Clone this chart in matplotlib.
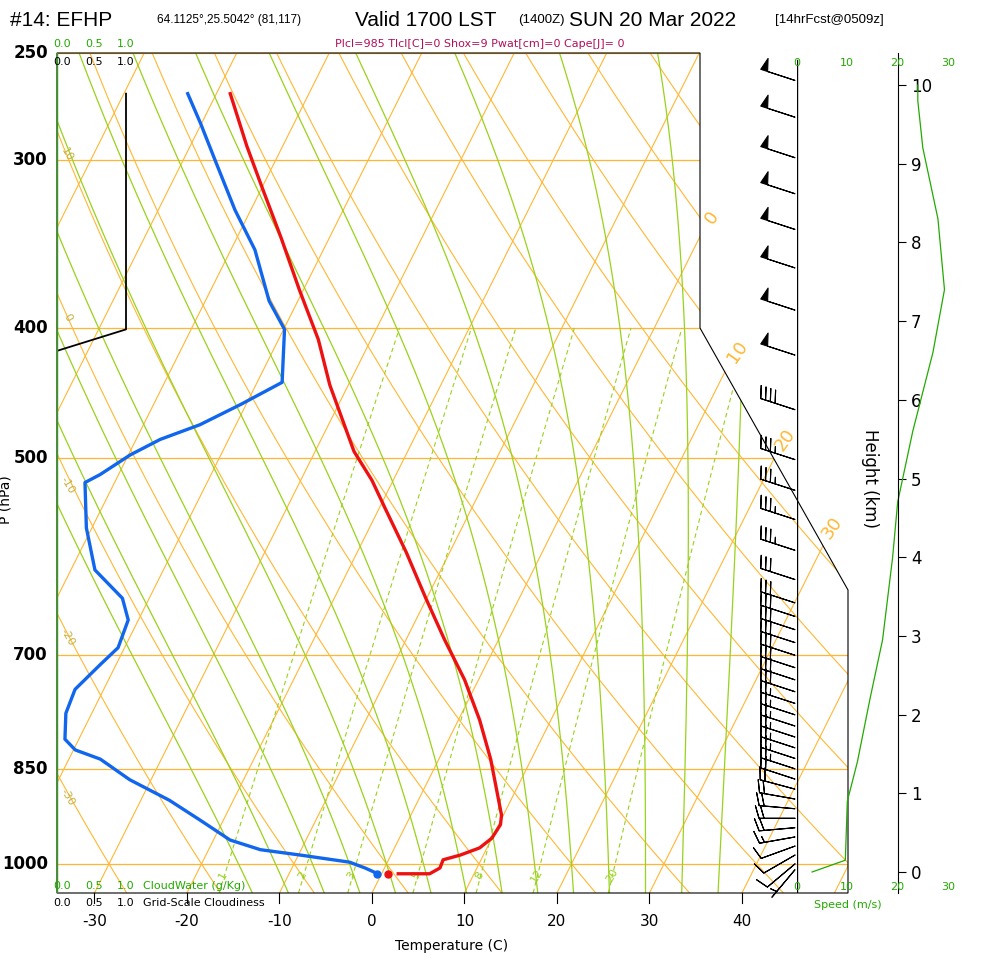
import numpy as np
import matplotlib
matplotlib.use("Agg")
import matplotlib.pyplot as plt
from matplotlib.patches import Polygon

# ---- data ----
temp_p = [1017, 1017, 1007, 993, 985, 973, 957, 935, 920, 881, 836, 782, 730, 682, 635,
          587, 545, 519, 494, 441, 408, 375, 343, 314, 293, 268]
temp_c = [1.8, 5.2, 6.0, 5.9, 7.5, 9.2, 10.0, 10.2, 9.8, 7.9, 5.6, 2.3, -1.5, -5.8, -10.1,
          -14.7, -19.3, -22.3, -25.8, -32.0, -35.7, -40.4, -45.2, -50.1, -53.9, -58.5]
dew_p = [1017, 1007, 997, 985, 976, 960, 928, 897, 866, 836, 823, 808, 773, 742, 711, 691,
         659, 635, 605, 563, 521, 514, 497, 484, 472, 456, 439, 401, 382, 350, 327, 300, 282, 268]
dew_c = [-0.4, -2.1, -4.1, -9.8, -14.4, -18.2, -22.5, -26.9, -32.3, -36.6, -39.8, -41.5, -42.8,
         -43.1, -41.7, -40.7, -41.1, -42.9, -47.4, -50.6, -53.2, -52.0, -49.8, -47.4, -43.9,
         -40.6, -37.3, -39.9, -43.1, -47.4, -51.7, -56.6, -60.1, -63.1]
sfc_p = 1017
sfc_t = 0.7
sfc_td = -0.5

cloud_p = [268, 401, 416]
cloud_frac = [1.0, 1.0, 0.0]

spd_h = [0.0, 0.15, 0.9, 1.4, 2.2, 2.95, 4.0, 4.7, 5.6, 6.6, 7.4, 8.3, 9.2, 9.8, 10.0]
spd_ms = [3, 9.6, 10, 12, 14.5, 17, 19, 20, 23, 27, 29.3, 28, 25, 24, 24]

barb_p = [262, 279, 299, 318, 338, 361, 388, 419, 460, 501, 528, 555, 585, 615,
          640, 655, 670, 685, 700, 715, 730, 745, 760, 775, 790, 805, 820, 835, 850,
          865, 880, 895, 910, 925, 940, 955, 970, 985, 1000, 1010]
barb_kt = [50, 50, 50, 50, 50, 50, 50, 50, 40, 35, 35, 35, 35, 30,
           30, 30, 30, 30, 30, 30, 28, 28, 26, 26, 25, 25, 25, 24, 24,
           22, 22, 22, 20, 20, 20, 15, 12, 10, 8, 5]
barb_dir = [288] * 30 + [285, 280, 275, 270, 265, 260, 250, 240, 230, 220]

p_levels = [250, 300, 400, 500, 700, 850, 1000]
t_ticks = [-30, -20, -10, 0, 10, 20, 30, 40]
mix_ratios = [1, 2, 3, 5, 8, 12, 20]

# ---- geometry ----
W, H = 992, 964
L, R, T, B = 57, 848, 53, 893
PBOT, PTOP = 1051.0, 250.0
SKEW = 31.6
XMIN = -34.05
XMAX = XMIN + (R - L) / 9.25
ORANGE = '#ffb733'
GREEN = '#99d21a'
DGREEN = '#22aa00'


def skx(t, p):
    return np.asarray(t) + SKEW * np.log(PBOT / np.asarray(p))


def fx(px):
    return px / W


def fy(py):
    return 1 - py / H


fig = plt.figure(figsize=(W / 100, H / 100), dpi=100)
ax = fig.add_axes([fx(L), fy(B), (R - L) / W, (B - T) / H])
ax.set_yscale('log')
ax.set_ylim(PBOT, PTOP)
ax.set_xlim(XMIN, XMAX)
ax.axis('off')

poly = [((px - L) / (R - L), (B - py) / (B - T)) for px, py in
        [(57, 53), (700, 53), (700, 328), (848, 590), (848, 893), (57, 893)]]
frame = Polygon(poly, closed=True, fill=False, edgecolor='black', lw=0.8,
                transform=ax.transAxes, zorder=10, clip_on=False)
ax.add_patch(frame)

pp = np.linspace(PBOT, PTOP, 200)


def clipped(line):
    line.set_clip_path(frame)


# isotherms
for t in range(-120, 60, 10):
    clipped(ax.plot(skx(np.full_like(pp, t), pp), pp, color=ORANGE, lw=0.8)[0])
# dry adiabats
for th in range(-60, 200, 10):
    tt = (th + 273.15) * (pp / 1000.0) ** 0.2857 - 273.15
    clipped(ax.plot(skx(tt, pp), pp, color=ORANGE, lw=0.8)[0])
# isobars
for p in p_levels:
    clipped(ax.plot([XMIN, XMAX], [p, p], color=ORANGE, lw=0.9)[0])


# moist adiabats
def moist(t1000):
    Rd, Cp, Lv, eps = 287.0, 1005.0, 2.5e6, 0.622

    def rs(tk, p):
        es = 6.112 * np.exp(17.67 * (tk - 273.15) / (tk - 29.65))
        return eps * es / (p - es)

    def dtdp(tk, p):
        r = rs(tk, p)
        return (Rd * tk + Lv * r) / (Cp + Lv ** 2 * r * eps / (Rd * tk ** 2)) / p

    out = {}
    for pend in (PBOT, PTOP):
        ps = np.linspace(1000.0, pend, 150)
        tk = t1000 + 273.15
        vals = [tk]
        for i in range(1, len(ps)):
            tk = tk + dtdp(tk, ps[i - 1]) * (ps[i] - ps[i - 1])
            vals.append(tk)
        out[pend] = (ps, np.array(vals) - 273.15)
    ps = np.concatenate([out[PBOT][0][::-1], out[PTOP][0][1:]])
    ts = np.concatenate([out[PBOT][1][::-1], out[PTOP][1][1:]])
    return ps, ts


for t0 in range(-16, 37, 4):
    ps, ts = moist(t0)
    clipped(ax.plot(skx(ts, ps), ps, color=GREEN, lw=0.9)[0])

# mixing ratio lines
pm = np.linspace(PBOT, 400, 100)
for w in mix_ratios:
    e = w * pm / (622.0 + w)
    le = np.log(e / 6.112)
    td = 243.5 * le / (17.67 - le)
    clipped(ax.plot(skx(td, pm), pm, color=GREEN, lw=0.8, ls=(0, (4, 3)))[0])
    ax.text(skx(td[0], PBOT) + 0.4, 1020, str(w), color=GREEN, fontsize=8,
            rotation=60, ha='center', va='center')

# profiles
ax.plot(skx(temp_c, temp_p), temp_p, color='#ee1111', lw=2.4, zorder=6)
ax.plot(skx(dew_c, dew_p), dew_p, color='#1166ee', lw=2.4, zorder=6)
ax.plot(skx(sfc_t, sfc_p), sfc_p, 'o', color='#ee1111', ms=5, zorder=7)
ax.plot(skx(sfc_td, sfc_p), sfc_p, 'o', color='#1166ee', ms=5, zorder=7)

# wind barbs
bd = np.radians(barb_dir)
bs = np.array(barb_kt)
u = -bs * np.sin(bd)
v = -bs * np.cos(bd)
bx = XMIN + (795 - L) / 9.25
ax.barbs(np.full(len(barb_p), bx), barb_p, u, v, length=7.2, lw=0.8,
         color='black', clip_on=False, zorder=8,
         sizes=dict(emptybarb=0, spacing=0.14, height=0.35, width=0.2))

# isotherm labels on the right, adiabat labels on the left
for lab, (px, py) in zip(['0', '10', '20', '30'], [(712, 218), (737, 352), (785, 440), (832, 528)]):
    fig.text(fx(px), fy(py), lab, color=ORANGE, fontsize=13, rotation=55,
             ha='center', va='center')
for lab, (px, py) in zip(['10', '0', '-10', '-20', '-30'],
                         [(67, 155), (68, 318), (68, 485), (68, 637), (68, 797)]):
    fig.text(fx(px), fy(py), lab, color='#c8b040', fontsize=8, rotation=-60,
             ha='center', va='center')

# pressure labels
for p in p_levels:
    py = B - (B - T) * np.log(PBOT / p) / np.log(PBOT / PTOP)
    fig.text(fx(48), fy(py), str(p), fontsize=12, ha='right', va='center',
             fontweight='bold')
fig.text(fx(6), fy(500), 'P (hPa)', fontsize=10, rotation=90, ha='center', va='center')

# temperature ticks
for t in t_ticks:
    px = L + (t - XMIN) * 9.25
    fig.add_artist(plt.Line2D([fx(px), fx(px)], [fy(B), fy(B + 10)], color='black', lw=0.8))
    fig.text(fx(px), fy(922), str(t), fontsize=11, ha='center', va='center')
fig.text(fx(452), fy(946), 'Temperature (C)', fontsize=10, ha='center', va='center')

# cloud axes
cax = fig.add_axes(ax.get_position())
cax.set_yscale('log')
cax.set_ylim(PBOT, PTOP)
cax.set_xlim(0, (R - L) / 69.0)
cax.axis('off')
cax.plot(cloud_frac, cloud_p, color='black', lw=1.3)
cax.plot([0, 0], [PBOT, PTOP], color=DGREEN, lw=1.0)
for i, lab in enumerate(['0.0', '0.5', '1.0']):
    px = 62 + i * 32
    fig.text(fx(px), fy(44), lab, color=DGREEN, fontsize=8, ha='center', va='center')
    fig.text(fx(px), fy(62), lab, color='black', fontsize=8, ha='center', va='center')
    fig.text(fx(px), fy(886), lab, color=DGREEN, fontsize=8, ha='center', va='center')
    fig.text(fx(px), fy(903), lab, color='black', fontsize=8, ha='center', va='center')
fig.text(fx(143), fy(886), 'CloudWater (g/Kg)', color=DGREEN, fontsize=8, va='center')
fig.text(fx(143), fy(903), 'Grid-Scale Cloudiness', color='black', fontsize=8, va='center')

# speed / height axes
sax = fig.add_axes([fx(797), fy(B), (948 - 797) / W, (B - T) / H])
sax.set_xlim(0, 30)
sax.set_ylim((872 - B) / 78.7, (872 - T) / 78.7)
sax.patch.set_alpha(0)
for s in ['top', 'bottom', 'left']:
    sax.spines[s].set_visible(False)
sax.spines['right'].set_position(('data', 20))
sax.yaxis.tick_right()
sax.set_yticks(range(0, 11))
sax.tick_params(axis='y', labelsize=12, length=6)
sax.set_xticks([])
sax.text(14.5, 5.0, 'Height (km)', rotation=-90, fontsize=12, ha='center', va='center')
sax.plot(spd_ms, spd_h, color=DGREEN, lw=0.9)
sax.plot([0, 0], [(872 - B) / 78.7, (872 - 60) / 78.7], color='black', lw=1.0)
for s in [0, 10, 20, 30]:
    px = 797 + s * 5.03
    fig.text(fx(px), fy(63), str(s), color=DGREEN, fontsize=8, ha='center', va='center')
    fig.text(fx(px), fy(887), str(s), color=DGREEN, fontsize=8, ha='center', va='center')
fig.text(fx(848), fy(905), 'Speed (m/s)', color=DGREEN, fontsize=8, ha='center', va='center')

# header
hdr = [(10, '#14: EFHP', 15), (157, '64.1125°,25.5042° (81,117)', 8.5),
       (355, 'Valid 1700 LST', 15), (518, '(1400Z)', 9.5),
       (569, 'SUN 20 Mar 2022', 15), (775, '[14hrFcst@0509z]', 9.5)]
for px, s, fs in hdr:
    fig.text(fx(px), fy(20), s, fontsize=fs, ha='left', va='center', family='Liberation Sans')
fig.text(fx(480), fy(44), 'Plcl=985 Tlcl[C]=0 Shox=9 Pwat[cm]=0 Cape[J]= 0',
         color='#b0105a', fontsize=8, ha='center', va='center')

fig.savefig('out.png', dpi=100)
